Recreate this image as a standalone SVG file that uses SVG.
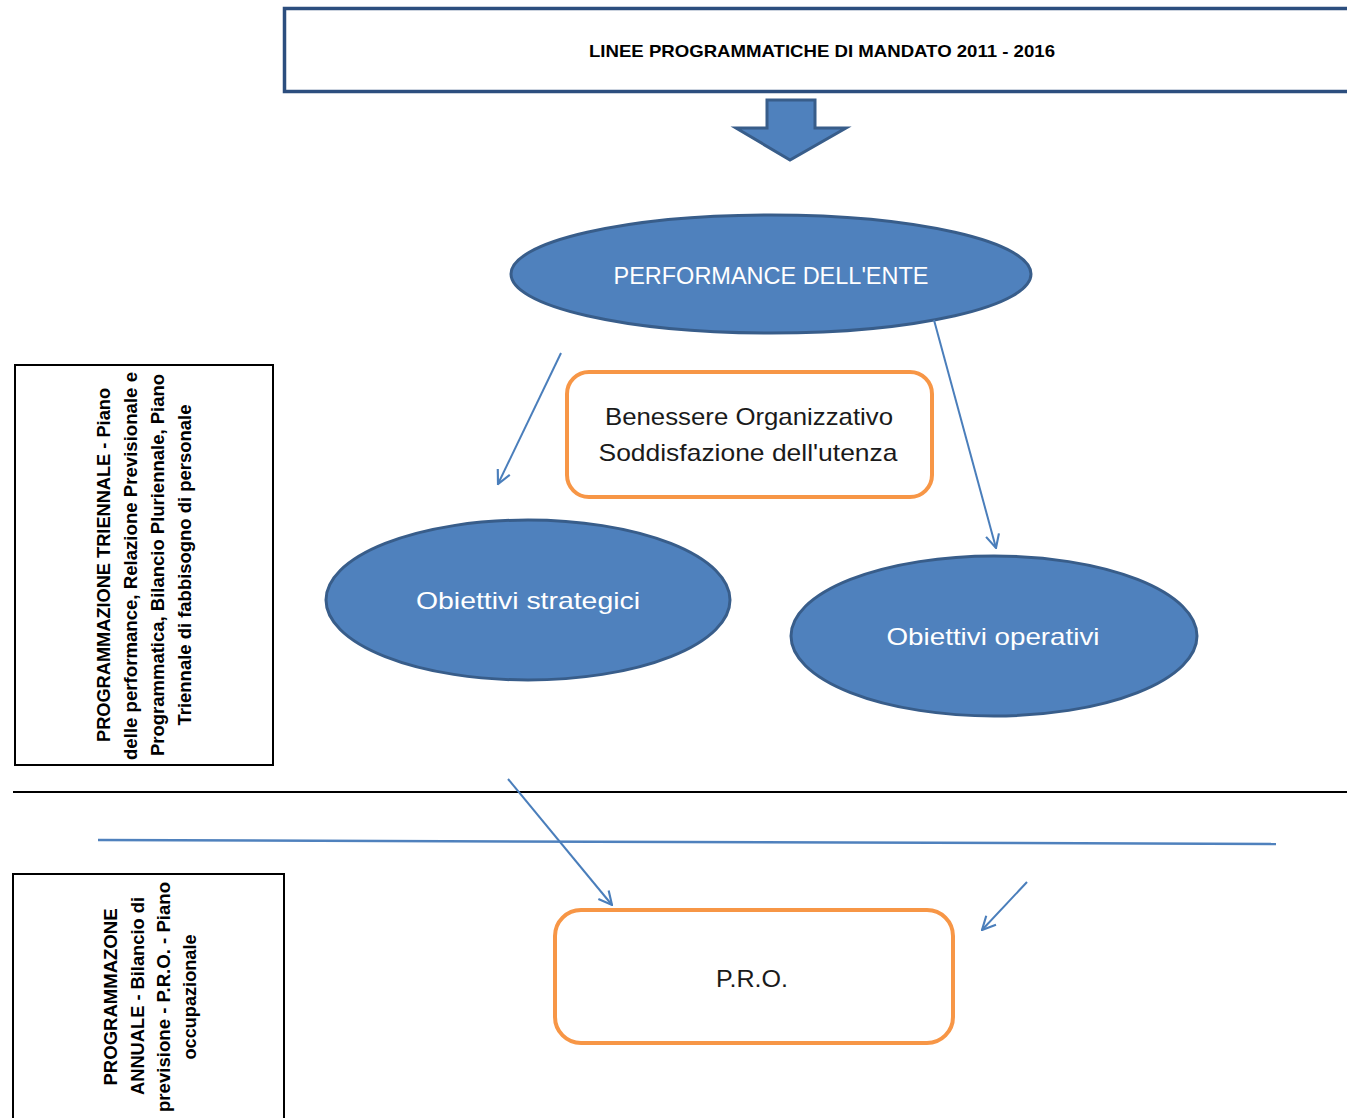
<svg xmlns="http://www.w3.org/2000/svg" width="1347" height="1118" viewBox="0 0 1347 1118">
<defs>
<style>
.ell{fill:#4F81BD;stroke:#385D8A;stroke-width:3}
.obox{fill:#FFFFFF;stroke:#F79646;stroke-width:4}
.kbox{fill:#FFFFFF;stroke:#000000;stroke-width:2}
.wt{font-family:"Liberation Sans",Arial,sans-serif;fill:#FFFFFF;font-size:24px;text-anchor:middle}
.bt{font-family:"Liberation Sans",Arial,sans-serif;fill:#1A1A1A;font-size:24px;text-anchor:middle}
.vt{font-family:"Liberation Sans",Arial,sans-serif;fill:#000000;font-size:18px;font-weight:bold;text-anchor:middle}
.conn{stroke:#4A7EBB;stroke-width:2;fill:none}
</style>
<marker id="ah" viewBox="0 0 12 12" refX="11" refY="6" markerWidth="16" markerHeight="16" markerUnits="userSpaceOnUse" orient="auto">
<path d="M1,1 L11,6 L1,11" fill="none" stroke="#4A7EBB" stroke-width="1.6"/>
</marker>
</defs>
<rect width="1347" height="1118" fill="#FFFFFF"/>

<g id="linee">
<rect x="284.5" y="8.5" width="1070" height="83" fill="#FFFFFF" stroke="#2C4E7E" stroke-width="3.5"/>
<text x="822" y="57" font-family="'Liberation Sans',Arial,sans-serif" font-size="17" font-weight="bold" text-anchor="middle" textLength="466" lengthAdjust="spacingAndGlyphs">LINEE PROGRAMMATICHE DI MANDATO 2011 - 2016</text>
</g>

<g id="block-arrow">
<path d="M767,100 L815,100 L815,128 L846,128 L790,160 L736,128 L767,128 Z" fill="#4F81BD" stroke="#385D8A" stroke-width="3" stroke-linejoin="miter"/>
</g>

<g id="performance">
<ellipse class="ell" cx="771" cy="274" rx="260" ry="59"/>
<text class="wt" x="771" y="284" textLength="315" lengthAdjust="spacingAndGlyphs">PERFORMANCE DELL'ENTE</text>
</g>

<g id="benessere">
<rect class="obox" x="567" y="372" width="365" height="125" rx="22"/>
<text class="bt" x="749" y="425" textLength="288" lengthAdjust="spacingAndGlyphs">Benessere Organizzativo</text>
<text class="bt" x="748" y="461" textLength="299" lengthAdjust="spacingAndGlyphs">Soddisfazione dell'utenza</text>
</g>

<g id="strategici">
<ellipse class="ell" cx="528" cy="600" rx="202" ry="80"/>
<text class="wt" x="528" y="609" textLength="224" lengthAdjust="spacingAndGlyphs">Obiettivi  strategici</text>
</g>

<g id="operativi">
<ellipse class="ell" cx="994" cy="636" rx="203" ry="80"/>
<text class="wt" x="993" y="645" textLength="213" lengthAdjust="spacingAndGlyphs">Obiettivi operativi</text>
</g>

<g id="pro">
<rect class="obox" x="555" y="910" width="398" height="133" rx="26"/>
<text class="bt" x="752" y="987" textLength="72" lengthAdjust="spacingAndGlyphs">P.R.O.</text>
</g>

<g id="triennale">
<rect class="kbox" x="15" y="365" width="258" height="400"/>
<text class="vt" transform="translate(110,565) rotate(-90)" textLength="354" lengthAdjust="spacingAndGlyphs">PROGRAMMAZIONE TRIENNALE  - Piano</text>
<text class="vt" transform="translate(137,566) rotate(-90)" textLength="388" lengthAdjust="spacingAndGlyphs">delle performance, Relazione Previsionale e</text>
<text class="vt" transform="translate(164,565) rotate(-90)" textLength="382" lengthAdjust="spacingAndGlyphs">Programmatica, Bilancio Pluriennale, Piano</text>
<text class="vt" transform="translate(191,565) rotate(-90)" textLength="321" lengthAdjust="spacingAndGlyphs">Triennale di fabbisogno di personale</text>
</g>

<g id="annuale">
<rect class="kbox" x="13" y="874" width="271" height="260"/>
<text class="vt" transform="translate(117,997) rotate(-90)" textLength="177" lengthAdjust="spacingAndGlyphs">PROGRAMMAZONE</text>
<text class="vt" transform="translate(144,996) rotate(-90)" textLength="198" lengthAdjust="spacingAndGlyphs">ANNUALE - Bilancio di</text>
<text class="vt" transform="translate(170,997) rotate(-90)" textLength="230" lengthAdjust="spacingAndGlyphs">previsione - P.R.O. - Piano</text>
<text class="vt" transform="translate(196,997) rotate(-90)" textLength="125" lengthAdjust="spacingAndGlyphs">occupazionale</text>
</g>

<g id="dividers">
<line x1="13" y1="792" x2="1347" y2="792" stroke="#000000" stroke-width="2"/>
<line x1="98" y1="840" x2="1276" y2="844" stroke="#4F81BD" stroke-width="2.5"/>
</g>

<g id="connectors">
<line class="conn" x1="561" y1="353" x2="498" y2="484" marker-end="url(#ah)"/>
<line class="conn" x1="934" y1="320" x2="996" y2="548" marker-end="url(#ah)"/>
<line class="conn" x1="508" y1="779" x2="612" y2="905" marker-end="url(#ah)"/>
<line class="conn" x1="1027" y1="882" x2="982" y2="930" marker-end="url(#ah)"/>
</g>
</svg>
